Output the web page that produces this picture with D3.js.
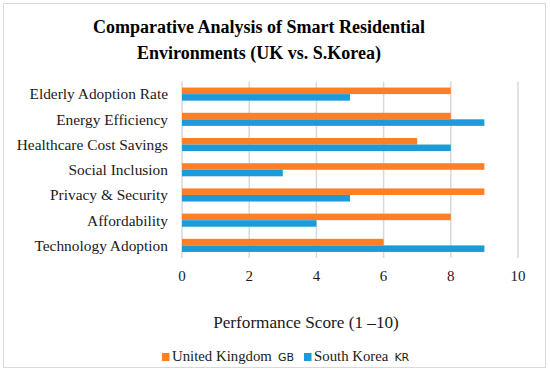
<!DOCTYPE html>
<html>
<head>
<meta charset="utf-8">
<script src="https://cdn.jsdelivr.net/npm/d3@7"></script>
<style>
  body { margin: 0; background: #fff; }
  svg text { font-family: "Liberation Serif", "Times New Roman", serif; }
</style>
</head>
<body>
<svg id="chart" width="550" height="372"></svg>
<script>
// data
var categories = ["Elderly Adoption Rate", "Energy Efficiency", "Healthcare Cost Savings",
                  "Social Inclusion", "Privacy & Security", "Affordability", "Technology Adoption"];
var ukValues = [8, 8, 7, 9, 9, 8, 6];
var krValues = [5, 9, 8, 3, 5, 4, 9];
var seriesNames = ["United Kingdom", "South Korea"];
var seriesTags = ["GB", "KR"];
var xTicks = [0, 2, 4, 6, 8, 10];

var colors = ["#ff7f27", "#1b9cd9"];
var svg = d3.select('#chart');

// border
svg.append('rect')
    .attr('x', 3.5).attr('y', 3.5)
    .attr('width', 542).attr('height', 364)
    .attr('fill', 'none')
    .attr('stroke', '#d9d9d9');

// title
var title = svg.append('text')
    .attr('text-anchor', 'middle')
    .attr('font-size', '18px')
    .attr('font-weight', 'bold');
title.append('tspan').attr('x', 259).attr('y', 33).text('Comparative Analysis of Smart Residential');
title.append('tspan').attr('x', 259).attr('y', 59).text('Environments (UK vs. S.Korea)');

var x = d3.scaleLinear().domain([0, 10]).range([182, 518]);
var y = d3.scaleBand().domain(categories).range([81.5, 258]).paddingInner(0.48).paddingOuter(0.24);
var ySub = d3.scaleBand().domain([0, 1]).range([0, y.bandwidth()]);

// gridlines
svg.append('g')
    .selectAll('line')
    .data(xTicks)
    .enter()
    .append('line')
    .attr('x1', d => x(d)).attr('x2', d => x(d))
    .attr('y1', 81.5).attr('y2', 258)
    .attr('stroke', '#d9d9d9')
    .attr('stroke-width', 1.5);

// bars
var groups = svg.append('g')
    .selectAll('g')
    .data(categories)
    .enter()
    .append('g')
    .attr('transform', d => 'translate(0,' + y(d) + ')');

groups.selectAll('rect')
    .data((d, i) => [ukValues[i], krValues[i]])
    .enter()
    .append('rect')
    .attr('x', x(0))
    .attr('y', (d, j) => ySub(j))
    .attr('width', d => x(d) - x(0))
    .attr('height', ySub.bandwidth())
    .attr('fill', (d, j) => colors[j]);

// category labels
svg.append('g')
    .selectAll('text')
    .data(categories)
    .enter()
    .append('text')
    .attr('x', 168)
    .attr('y', d => y(d) + y.bandwidth() / 2)
    .attr('dy', '0.35em')
    .attr('text-anchor', 'end')
    .attr('font-size', '15.4px')
    .attr('fill', '#1a1a1a')
    .text(d => d);

// tick labels
svg.append('g')
    .selectAll('text')
    .data(xTicks)
    .enter()
    .append('text')
    .attr('x', d => x(d))
    .attr('y', 281)
    .attr('text-anchor', 'middle')
    .attr('font-size', '15px')
    .attr('fill', '#1a1a1a')
    .text(d => d);

// axis title
svg.append('text')
    .attr('x', 306).attr('y', 328)
    .attr('text-anchor', 'middle')
    .attr('font-size', '17.2px')
    .attr('fill', '#1a1a1a')
    .text('Performance Score (1 \u201310)');

// legend
var legendX = [162, 304];
var legend = svg.append('g')
    .selectAll('g')
    .data(seriesNames)
    .enter()
    .append('g')
    .attr('transform', (d, i) => 'translate(' + legendX[i] + ',361)');
legend.append('rect')
    .attr('x', 0).attr('y', -8)
    .attr('width', 7.5).attr('height', 8)
    .attr('fill', (d, i) => colors[i]);
var lt = legend.append('text')
    .attr('x', 10).attr('y', 0)
    .attr('font-size', '14.8px')
    .attr('fill', '#1a1a1a');
lt.append('tspan').text(d => d);
lt.append('tspan')
    .attr('dx', 6)
    .attr('font-family', '"DejaVu Sans", sans-serif')
    .attr('font-size', '11px')
    .text((d, i) => seriesTags[i]);
</script>
</body>
</html>
